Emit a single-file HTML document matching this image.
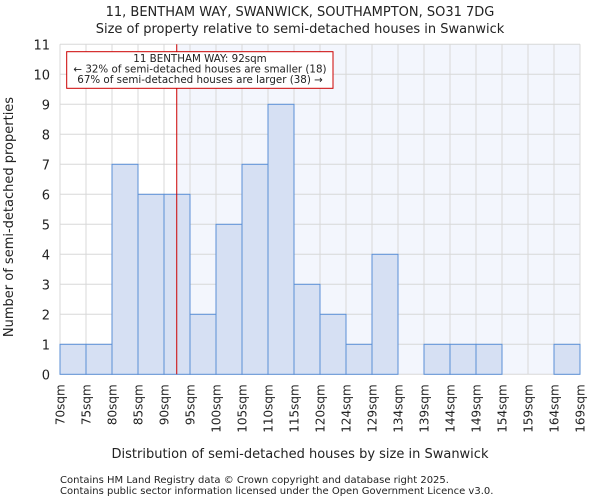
<!DOCTYPE html>
<html><head><meta charset="utf-8"><style>
body{margin:0;background:#fff;font-family:"DejaVu Sans","Liberation Sans",sans-serif}
svg text{font-family:"DejaVu Sans","Liberation Sans",sans-serif;fill:#222}
</style></head><body>
<svg id="c" width="600" height="500" xmlns="http://www.w3.org/2000/svg">
<text x="300" y="16" font-size="13" text-anchor="middle">11, BENTHAM WAY, SWANWICK, SOUTHAMPTON, SO31 7DG</text>
<text x="300" y="33" font-size="13" text-anchor="middle">Size of property relative to semi-detached houses in Swanwick</text>
<g id="plot"></g>
<text x="300" y="458" font-size="13" text-anchor="middle">Distribution of semi-detached houses by size in Swanwick</text>
<text transform="translate(13,217) rotate(-90)" font-size="13" text-anchor="middle">Number of semi-detached properties</text>
<text x="60" y="483" font-size="10" fill="#444">Contains HM Land Registry data © Crown copyright and database right 2025.</text>
<text x="60" y="494" font-size="10" fill="#444">Contains public sector information licensed under the Open Government Licence v3.0.</text>
</svg>
<script>
const binLabels=["70sqm","75sqm","80sqm","85sqm","90sqm","95sqm","100sqm","105sqm","110sqm","115sqm","120sqm","124sqm","129sqm","134sqm","139sqm","144sqm","149sqm","154sqm","159sqm","164sqm","169sqm"];
const counts=[1,1,7,6,6,2,5,7,9,3,2,1,4,0,1,1,1,0,0,1];
const yTicks=[0,1,2,3,4,5,6,7,8,9,10,11];
const markerBin=4.49;
const annotLines=["11 BENTHAM WAY: 92sqm","← 32% of semi-detached houses are smaller (18)","67% of semi-detached houses are larger (38) →"];
const L=60,R=580,T=44.3,B=374.3,yMax=11;
const nb=counts.length,bw=(R-L)/nb;
const x=i=>L+i*bw, y=v=>B-(v/yMax)*(B-T);
const NS="http://www.w3.org/2000/svg",g=document.getElementById('plot');
function mk(t,a,p){const e=document.createElementNS(NS,t);for(const k in a)e.setAttribute(k,a[k]);(p||g).appendChild(e);return e;}
let e;
e=mk('rect',{x:L,y:T,width:R-L,height:B-T,fill:'#fff'});


e=mk('rect',{x:x(markerBin),y:T,width:R-x(markerBin),height:B-T,fill:'#f3f6fd'});


for(let i=0;i<=nb;i++){e=mk('line',{x1:x(i),x2:x(i),y1:T,y2:B,stroke:'#d8d8d8','stroke-width':1});

}
yTicks.forEach(v=>{e=mk('line',{x1:L,x2:R,y1:y(v),y2:y(v),stroke:'#d8d8d8','stroke-width':1});


e=mk('text',{x:L-10,y:y(v)+5,'font-size':13,'text-anchor':'end'});e.textContent=v;

});
counts.forEach((c,i)=>{if(c<=0)return;e=mk('rect',{x:x(i),y:y(c),width:bw,height:B-y(c),fill:'#d6e0f3',stroke:'#5b8fd6','stroke-width':1});

});
binLabels.forEach((l,i)=>{e=mk('text',{transform:`translate(${x(i)+4.5},${B+10}) rotate(-90)`,'font-size':12,'text-anchor':'end'});e.textContent=l;

});
e=mk('line',{x1:x(markerBin),x2:x(markerBin),y1:T,y2:B,stroke:'#cc0000','stroke-width':1});


e=mk('rect',{x:66.7,y:51.7,width:266.3,height:36.6,fill:'#fff',stroke:'#cc0000','stroke-width':1});


annotLines.forEach((s,k)=>{e=mk('text',{x:200,y:62+k*10.5,'font-size':10.3,'text-anchor':'middle'});e.textContent=s;

});
</script>
</body></html>
